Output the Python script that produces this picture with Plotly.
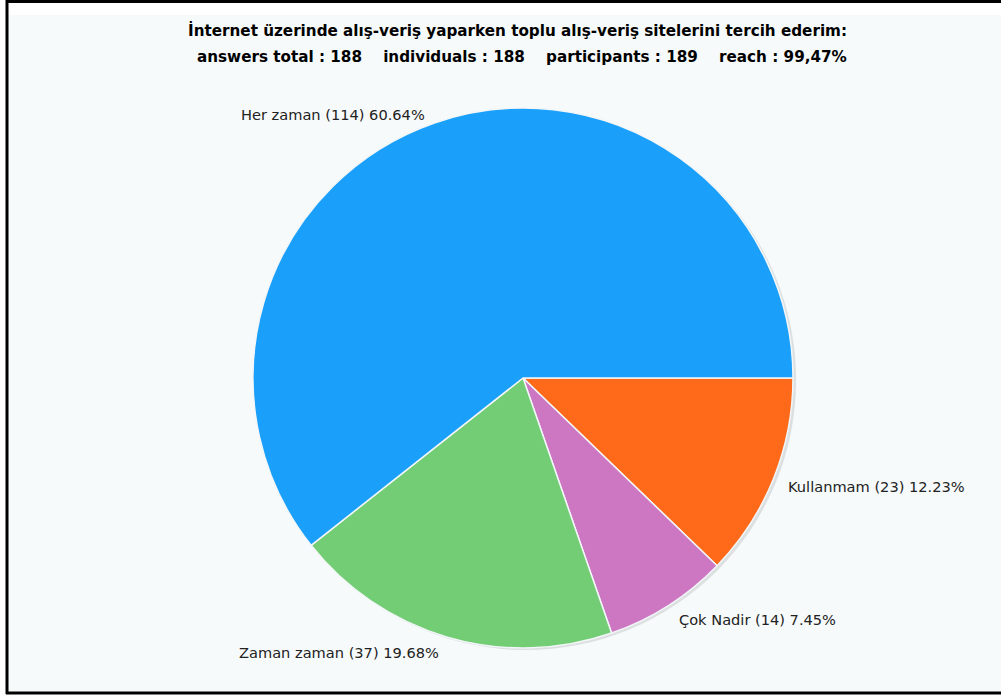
import math
import plotly.graph_objects as go

# ---- data ----
categories = ["Her zaman", "Zaman zaman", "Çok Nadir", "Kullanmam"]
counts = [114, 37, 14, 23]
colors = ["#1aa0fb", "#72cd74", "#cd77c3", "#fe6a1a"]
title_line1 = "İnternet üzerinde alış-veriş yaparken toplu alış-veriş sitelerini tercih ederim:"
stats_names = ["answers total", "individuals", "participants", "reach"]
stats_values = ["188", "188", "189", "99,47%"]

W, H = 1001, 698
CX, CY, R = 523, 378, 270  # pie centre / radius in px

fig = go.Figure()

# soft shadow behind the pie
fig.add_trace(go.Pie(
    values=[1], labels=["shadow"], sort=False, textinfo="none", hoverinfo="skip",
    marker=dict(colors=["rgba(0,0,0,0.10)"], line=dict(width=0)),
    domain=dict(x=[(CX - R + 3) / W, (CX + R + 3) / W],
                y=[(H - CY - R - 2) / H, (H - CY + R - 2) / H]),
    showlegend=False,
))

total = sum(counts)
pct = [c / total * 100 for c in counts]
labels_txt = [f"{n} ({c}) {p:.2f}%" for n, c, p in zip(categories, counts, pct)]

# slices run counter-clockwise from 3 o'clock: draw reversed order clockwise from 3 o'clock
fig.add_trace(go.Pie(
    labels=categories[::-1], values=counts[::-1], sort=False,
    direction="clockwise", rotation=90,
    marker=dict(colors=colors[::-1], line=dict(color="#f2f6f8", width=1.5)),
    textinfo="none", hoverinfo="label+value+percent",
    domain=dict(x=[(CX - R) / W, (CX + R) / W], y=[(H - CY - R) / H, (H - CY + R) / H]),
    showlegend=False,
))

# outside labels placed at each slice's mid-angle
K = 1.035
start = 0.0
annotations = []
for txt, p in zip(labels_txt, pct):
    span = p / 100 * 360
    mid = math.radians(start + span / 2)
    start += span
    dx = math.cos(mid) * R * K
    dy = -math.sin(mid) * R * K
    off = 3 + 3 * (dy / (R * K))
    anchor = "left" if dx >= 0 else "right"
    annotations.append(dict(
        x=(CX + dx + (4 if dx >= 0 else -4)) / W, y=1 - (CY + dy + off) / H,
        xref="paper", yref="paper", xanchor=anchor, yanchor="middle",
        text=txt, showarrow=False,
        font=dict(family="DejaVu Sans", size=14.6, color="#222222"),
    ))

sp = "\u00a0" * 4
line2 = sp.join(f"{n} : {v}" for n, v in zip(stats_names, stats_values))
annotations.append(dict(x=517 / W, y=1 - 30 / H, xref="paper", yref="paper",
                        xanchor="center", yanchor="middle", text=f"<b>{title_line1}</b>",
                        showarrow=False, font=dict(family="DejaVu Sans", size=15.2, color="#000")))
annotations.append(dict(x=522 / W, y=1 - 57 / H, xref="paper", yref="paper",
                        xanchor="center", yanchor="middle", text=f"<b>{line2}</b>",
                        showarrow=False, font=dict(family="DejaVu Sans", size=15.2, color="#000")))

shapes = [
    # panel background
    dict(type="rect", xref="paper", yref="paper", x0=8 / W, x1=1, y0=1 - 692 / H, y1=1 - 15 / H,
         fillcolor="#f6fafb", line=dict(width=0), layer="below"),
    # borders
    dict(type="line", xref="paper", yref="paper", x0=6 / W, x1=1, y0=1 - 1.5 / H, y1=1 - 1.5 / H,
         line=dict(color="#000", width=3)),
    dict(type="line", xref="paper", yref="paper", x0=7 / W, x1=7 / W, y0=1 - 694 / H, y1=1,
         line=dict(color="#000", width=3)),
    dict(type="line", xref="paper", yref="paper", x0=6 / W, x1=1, y0=1 - 693 / H, y1=1 - 693 / H,
         line=dict(color="#000", width=3)),
]

fig.update_layout(
    width=W, height=H, margin=dict(l=0, r=0, t=0, b=0),
    paper_bgcolor="#ffffff", plot_bgcolor="#ffffff",
    annotations=annotations, shapes=shapes,
)

fig.write_html("out.html")
